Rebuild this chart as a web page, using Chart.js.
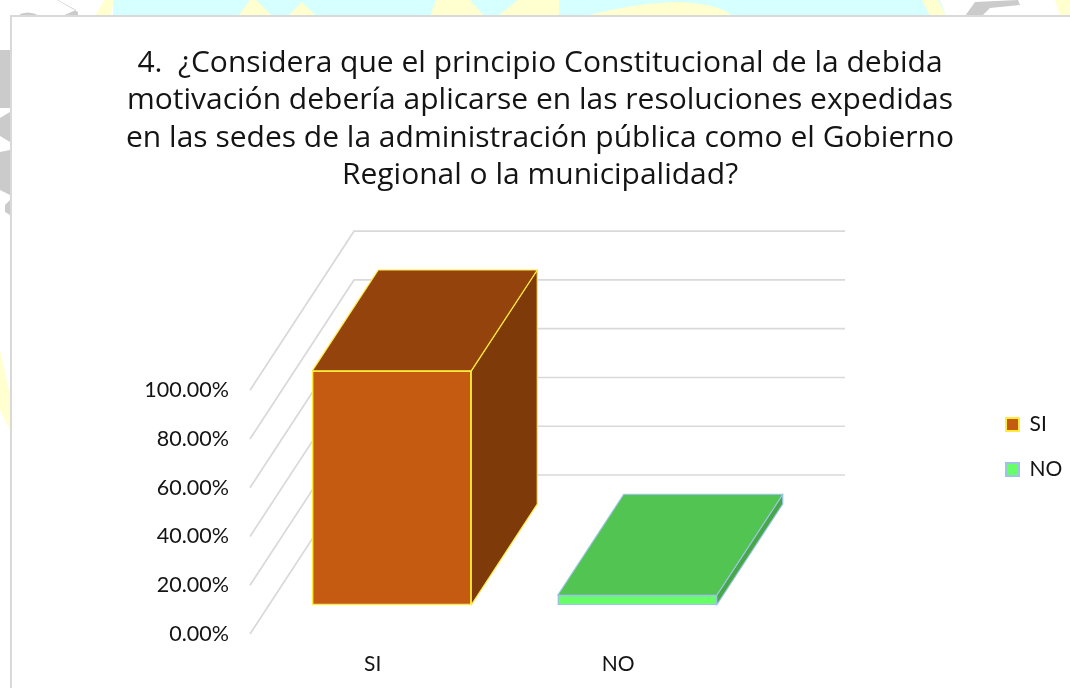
<!DOCTYPE html>
<html lang="es">
<head>
<meta charset="utf-8">
<title>Principio de la debida motivación</title>
<script src="https://cdn.jsdelivr.net/npm/chart.js@4"></script>
<style>
  html, body { margin: 0; padding: 0; background: #fff; overflow: hidden; }
  #stage { position: relative; width: 1070px; height: 688px; overflow: hidden; }
  #backdrop { position: absolute; left: 0; top: 0; filter: blur(.6px); }
  #card { position: absolute; left: 10px; top: 15px; width: 1060px; height: 673px;
          box-sizing: border-box; background: #fff;
          border-left: 2px solid #d9d9d9; border-top: 2px solid #d9d9d9; }
  #chart { position: absolute; left: 0; top: 0; }
</style>
</head>
<body>
<div id="stage">
  <!-- Watermark of the page behind the chart card -->
  <svg id="backdrop" width="1070" height="688">
    <polygon points="113,0 940,0 946,16 113,16" fill="#d6ffff"/>
    <polygon points="95,16 104,0 114,0 110,16" fill="#ffffcf"/>
    <polygon points="238,16 250,0 256,0 272,16" fill="#ffffcf"/>
    <polygon points="288,16 302,2 316,16" fill="#ffffcf"/>
    <polygon points="430,16 436,0 470,0 484,16" fill="#ffffcf"/>
    <polygon points="498,16 518,0 559,0 559,16" fill="#ffffcf"/>
    <path d="M585,16 Q640,2 680,2 Q720,4 732,16 Z" fill="#ffffcf"/>
    <polygon points="922,0 938,0 946,16 930,16" fill="#ffffcf"/>
    <polygon points="1055,0 1070,0 1070,16 1060,16" fill="#ffffcf"/>
    <path d="M965,16 L975,2 L1018,0 L1020,5 L990,8 L982,16 Z" fill="#cbcbcb"/>
    <path d="M57,0 L78,12 L78,16 L62,16 L76,10 L58,0 Z" fill="#cbcbcb"/>
    <path d="M20,14 Q30,10 40,16 L20,16 Z" fill="#cbcbcb"/>
    <polygon points="0,50 10,50 10,108 0,108" fill="#cbcbcb"/>
    <polygon points="0,118 10,112 10,142 0,136" fill="#cbcbcb"/>
    <polygon points="0,152 10,150 10,195 0,190" fill="#cbcbcb"/>
    <polygon points="5,205 10,200 10,215 5,212" fill="#cbcbcb"/>
    <polygon points="0,350 10,395 10,430 0,410" fill="#ffffcf"/>
  </svg>
  <div id="card"></div>
  <canvas id="chart" width="1070" height="688"></canvas>
</div>
<script>
// Survey question and its answers
const titleLines = [
  '4.  ¿Considera que el principio Constitucional de la debida',
  'motivación debería aplicarse en las resoluciones expedidas',
  'en las sedes de la administración pública como el Gobierno',
  'Regional o la municipalidad?'
];
const categories = ['SI', 'NO'];
const percentages = [96, 4];
const tickValues = [0, 20, 40, 60, 80, 100];

// Face colours per answer: front, top, side, outline
const frontColors = ['#C55A11', '#66FF66'];
const topColors = ['#94430C', '#52C452'];
const sideColors = ['#7F3A0A', '#46A846'];
const edgeColors = ['#FFEB3B', '#9DC3E6'];

// Oblique projection of the depth axis, in pixels
const WALL = { dx: 104, dy: -159 };
const BAR_FRONT = 0.1824;   // fraction of the depth where the bars start
const BAR_DEPTH = 0.635;    // fraction of the depth each bar occupies
const GRID_COLOR = '#d9d9d9';
const TEXT_COLOR = '#141414';

function polygon(ctx, pts, fill, stroke, width) {
  ctx.beginPath();
  pts.forEach((p, i) => i ? ctx.lineTo(p[0], p[1]) : ctx.moveTo(p[0], p[1]));
  ctx.closePath();
  if (fill) { ctx.fillStyle = fill; ctx.fill(); }
  if (stroke) { ctx.strokeStyle = stroke; ctx.lineWidth = width; ctx.lineJoin = 'round'; ctx.stroke(); }
}

// Draws the walls and the receding faces, and offsets the bar fronts into depth
const depthPlugin = {
  id: 'depth',
  beforeDatasetsDraw(chart) {
    const { ctx, chartArea: area, scales: { y } } = chart;
    ctx.save();
    ctx.strokeStyle = GRID_COLOR;
    ctx.lineWidth = 1.7;
    tickValues.forEach(v => {
      const py = y.getPixelForValue(v);
      ctx.beginPath();
      ctx.moveTo(area.left, py);
      ctx.lineTo(area.left + WALL.dx, py + WALL.dy);
      ctx.lineTo(area.right + WALL.dx, py + WALL.dy);
      ctx.stroke();
    });
    const sx = WALL.dx * BAR_FRONT, sy = WALL.dy * BAR_FRONT;
    const bx = WALL.dx * BAR_DEPTH, by = WALL.dy * BAR_DEPTH;
    chart.getDatasetMeta(0).data.forEach((bar, i) => {
      const half = bar.width / 2;
      const l = bar.x - half + sx, r = bar.x + half + sx;
      const t = bar.y + sy, b = bar.base + sy;
      polygon(ctx, [[r, t], [r + bx, t + by], [r + bx, b + by], [r, b]], sideColors[i], edgeColors[i], 1.2);
      polygon(ctx, [[l, t], [l + bx, t + by], [r + bx, t + by], [r, t]], topColors[i], edgeColors[i], 1.2);
    });
    ctx.restore();
  },
  beforeDatasetDraw(chart) {
    chart.ctx.save();
    chart.ctx.translate(WALL.dx * BAR_FRONT, WALL.dy * BAR_FRONT);
  },
  afterDatasetDraw(chart) {
    chart.ctx.restore();
  }
};

// Centres the title on the card and sets the legend beside the walls
const blockPlugin = {
  id: 'blocks',
  afterLayout(chart) {
    chart.titleBlock.right = chart.width;
    const legend = chart.legend;
    const w = legend.width, h = legend.height;
    legend.left = 982;
    legend.right = legend.left + w;
    legend.top = 390;
    legend.bottom = legend.top + h;
  }
};

new Chart(document.getElementById('chart'), {
  type: 'bar',
  data: {
    labels: categories,
    datasets: [{
      data: percentages,
      backgroundColor: frontColors,
      borderColor: edgeColors,
      borderWidth: 1.5,
      borderSkipped: false,
      barThickness: 159,
      clip: false
    }]
  },
  options: {
    responsive: false,
    animation: false,
    layout: { padding: { left: 10, top: 0, right: 329, bottom: 0 } },
    scales: {
      x: {
        grid: { display: false },
        border: { display: false },
        ticks: { padding: 10, maxRotation: 0, color: TEXT_COLOR, font: { family: 'Lato', size: 21 } },
        afterFit(scale) { scale.height = 54; }
      },
      y: {
        min: 0,
        max: 100,
        grid: { display: false },
        border: { display: false },
        afterBuildTicks(scale) { scale.ticks = tickValues.map(value => ({ value })); },
        ticks: {
          padding: 13,
          color: TEXT_COLOR,
          font: { family: 'Lato', size: 21.5 },
          callback: v => v.toFixed(2) + '%'
        },
        afterFit(scale) { scale.width = 240; }
      }
    },
    plugins: {
      tooltip: { enabled: false },
      title: {
        display: true,
        text: titleLines,
        color: TEXT_COLOR,
        font: { family: 'Open Sans', size: 30, weight: 'normal', lineHeight: '37.3px' },
        padding: { top: 45, bottom: 196 }
      },
      legend: {
        position: 'chartArea',
        align: 'start',
        labels: {
          boxWidth: 13,
          boxHeight: 13,
          padding: 24,
          color: TEXT_COLOR,
          font: { family: 'Lato', size: 21 },
          generateLabels: chart => categories.map((text, i) => ({
            text,
            fillStyle: frontColors[i],
            strokeStyle: edgeColors[i],
            lineWidth: 2,
            fontColor: TEXT_COLOR,
            index: i
          }))
        }
      }
    }
  },
  plugins: [depthPlugin, blockPlugin]
});
</script>
</body>
</html>
